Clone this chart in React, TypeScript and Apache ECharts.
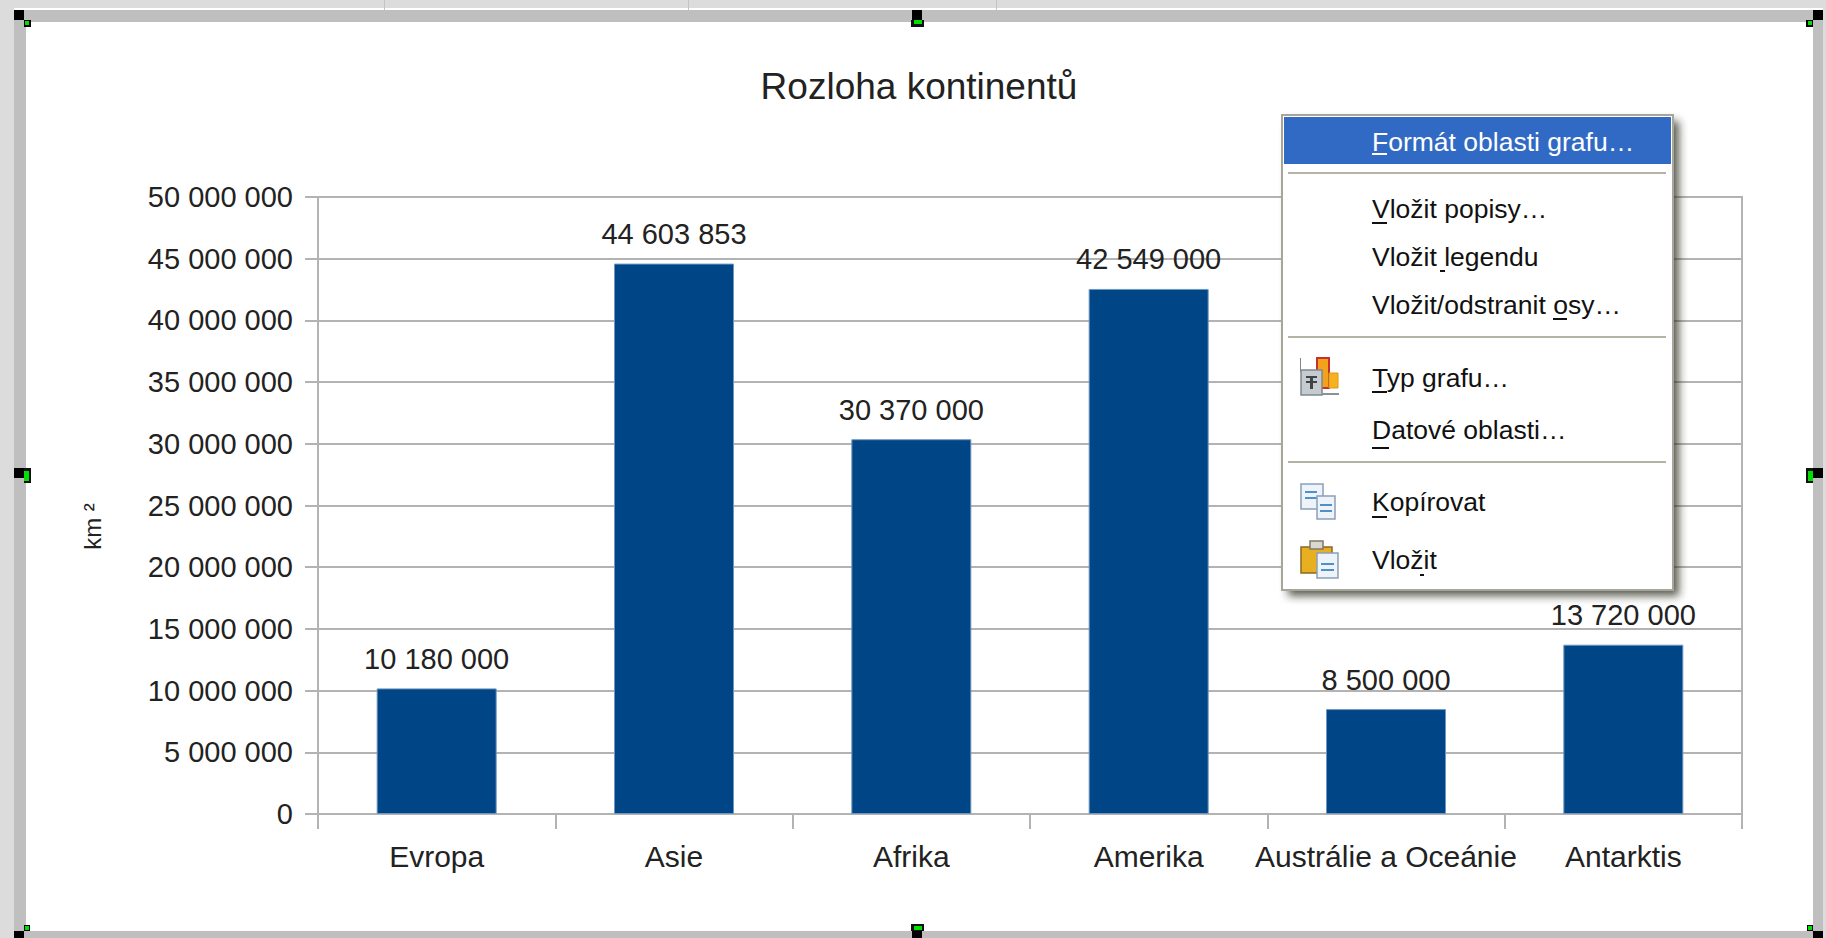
import React, { useEffect, useRef } from "react";
import * as echarts from "echarts";

const chartTitle = "Rozloha kontinentů";
const axisName = "km ²";
const categories = ["Evropa", "Asie", "Afrika", "Amerika", "Austrálie a Oceánie", "Antarktis"];
const areas = [10180000, 44603853, 30370000, 42549000, 8500000, 13720000];
const axisMax = 50000000;
const axisStep = 5000000;

const menuItems: [string, number][] = [
  ["Vložit popisy…", 209],
  ["Vložit legendu", 257],
  ["Vložit/odstranit osy…", 305],
  ["Typ grafu…", 378],
  ["Datové oblasti…", 430],
  ["Kopírovat", 502],
  ["Vložit", 560],
];
const menuUnderlines: [number, number, number][] = [
  [1372, 1387, 222],
  [1440, 1445, 270],
  [1553, 1567, 318],
  [1372, 1387, 391],
  [1372, 1389, 447],
  [1372, 1387, 516],
  [1420, 1424, 574],
];
const menuSeparators = [173, 337, 462];

const FONT = '"Liberation Sans", sans-serif';
const TEXT = "#222222";
const LINE = "#b3b3b3";
const fmt = (v: number) => String(v).replace(/\B(?=(\d{3})+(?!\d))/g, " ");

function rect(x: number, y: number, w: number, h: number, fill: string, extra: any = {}, z = 50) {
  return { type: "rect", z, shape: { x, y, width: w, height: h }, style: { fill, ...extra }, silent: true };
}

export default function App() {
  const ref = useRef<HTMLDivElement>(null);
  useEffect(() => {
    document.body.style.margin = "0";
    document.body.style.overflow = "hidden";
    const chart = echarts.init(ref.current!, undefined, { renderer: "svg" });
    const graphics: any[] = [
      // window background and frame
      rect(0, 0, 1826, 10, "#dcdcdc"),
      rect(0, 0, 14, 938, "#dcdcdc"),
      rect(1823, 0, 3, 938, "#dcdcdc"),
      rect(14, 8, 1809, 2, "#ffffff"),
      rect(384, 0, 1, 10, "#c4c4c4"),
      rect(688, 0, 1, 10, "#c4c4c4"),
      rect(996, 0, 1, 10, "#c4c4c4"),
      rect(14, 10, 1809, 12, "#bfbfbf"),
      rect(14, 10, 12, 928, "#bfbfbf"),
      rect(1813, 10, 10, 928, "#bfbfbf"),
      rect(14, 931, 1809, 7, "#bfbfbf"),
      // corner handles
      rect(14, 10, 10, 10, "#000", {}, 60),
      rect(24, 20, 7, 7, "#000", {}, 60),
      rect(25, 21, 4, 4, "#00e000", {}, 61),
      rect(1813, 10, 10, 10, "#000", {}, 60),
      rect(1806, 20, 7, 7, "#000", {}, 60),
      rect(1808, 21, 4, 4, "#00e000", {}, 61),
      rect(14, 931, 10, 7, "#000", {}, 60),
      rect(24, 925, 6, 6, "#000", {}, 60),
      rect(25, 926, 4, 4, "#00e000", {}, 61),
      rect(1813, 931, 10, 7, "#000", {}, 60),
      rect(1807, 925, 6, 6, "#000", {}, 60),
      rect(1808, 926, 4, 4, "#00e000", {}, 61),
      // side handles
      rect(912, 10, 10, 10, "#000", {}, 60),
      rect(911, 20, 13, 7, "#111", {}, 60),
      rect(914, 20, 8, 4, "#00e000", {}, 61),
      rect(912, 931, 10, 7, "#000", {}, 60),
      rect(911, 924, 13, 7, "#111", {}, 60),
      rect(914, 926, 8, 4, "#00e000", {}, 61),
      rect(14, 468, 10, 10, "#000", {}, 60),
      rect(24, 468, 7, 15, "#111", {}, 60),
      rect(24, 471, 5, 10, "#00e000", {}, 61),
      rect(1813, 468, 10, 10, "#000", {}, 60),
      rect(1806, 468, 7, 15, "#111", {}, 60),
      rect(1808, 471, 5, 10, "#00e000", {}, 61),
      // context menu
      rect(1282, 115, 391, 475, "#ffffff", { shadowBlur: 8, shadowColor: "rgba(40,40,30,0.75)", shadowOffsetX: 6, shadowOffsetY: 6 }, 70),
      rect(1282, 115, 391, 475, "#ffffff", { stroke: "#a8a698", lineWidth: 2 }, 71),
      rect(1284, 117, 387, 47, "#316ac5", {}, 72),
      {
        type: "text", z: 73, x: 1372, y: 142, silent: true,
        style: { text: "Formát oblasti grafu…", fill: "#ffffff", font: `26.5px ${FONT}`, textVerticalAlign: "middle" },
      },
      rect(1372, 153, 15, 2, "#ffffff", {}, 73),
      ...menuSeparators.map((y) => rect(1288, y - 1, 378, 2, "#b5b3a5", {}, 72)),
      ...menuItems.map(([text, y]) => ({
        type: "text", z: 73, x: 1372, y, silent: true,
        style: { text, fill: "#111", font: `26.5px ${FONT}`, textVerticalAlign: "middle" },
      })),
      ...menuUnderlines.map(([a, b, y]) => rect(a, y, b - a, 2, "#111", {}, 73)),
      // chart-type icon
      rect(1317, 358, 12, 30, "#f3a21c", { stroke: "#c8302a", lineWidth: 2 }, 73),
      rect(1329, 373, 9, 15, "#f6b21c", { stroke: "#d89a20", lineWidth: 1 }, 73),
      rect(1300, 358, 1, 14, "#7f8890", {}, 74),
      rect(1301, 370, 21, 25, "#c6cbd0", { stroke: "#7f8890", lineWidth: 1.5 }, 74),
      rect(1322, 393, 17, 2, "#8a9298", {}, 74),
      rect(1306, 376, 11, 2, "#404448", {}, 75),
      rect(1306, 381, 11, 2, "#404448", {}, 75),
      rect(1310, 376, 3, 13, "#404448", {}, 75),
      // copy icon
      rect(1301, 484, 22, 25, "#eef3fa", { stroke: "#8aa0b8", lineWidth: 1.5 }, 73),
      rect(1305, 491, 12, 2, "#4f90c8", {}, 74),
      rect(1305, 497, 12, 2, "#4f90c8", {}, 74),
      rect(1317, 496, 18, 23, "#eef3fa", { stroke: "#8aa0b8", lineWidth: 1.5 }, 75),
      rect(1320, 504, 12, 2, "#4f90c8", {}, 76),
      rect(1320, 510, 12, 2, "#4f90c8", {}, 76),
      // paste icon
      rect(1301, 547, 31, 26, "#e8b020", { stroke: "#8a6a20", lineWidth: 1.5 }, 73),
      rect(1310, 541, 13, 8, "#d8d8d0", { stroke: "#807a68", lineWidth: 1.5 }, 74),
      rect(1317, 553, 21, 25, "#eef3fa", { stroke: "#8aa0b8", lineWidth: 1.5 }, 75),
      rect(1321, 563, 13, 2, "#4f90c8", {}, 76),
      rect(1321, 569, 13, 2, "#4f90c8", {}, 76),
    ];
    chart.setOption({
      animation: false,
      backgroundColor: "#ffffff",
      title: {
        text: chartTitle,
        left: 914,
        top: 63,
        textAlign: "center",
        textStyle: { fontFamily: FONT, fontSize: 37, fontWeight: "normal", color: TEXT },
      },
      grid: { left: 318, right: 84, top: 197, bottom: 124, show: true, borderColor: LINE, borderWidth: 2, containLabel: false },
      xAxis: {
        type: "category",
        data: categories,
        axisLine: { show: true, lineStyle: { color: LINE, width: 2 } },
        axisTick: { show: true, length: 15, lineStyle: { color: LINE, width: 2 }, alignWithLabel: false },
        axisLabel: { color: TEXT, fontFamily: FONT, fontSize: 30, margin: 27, interval: 0 },
      },
      yAxis: {
        type: "value",
        min: 0,
        max: axisMax,
        interval: axisStep,
        name: axisName,
        nameLocation: "middle",
        nameGap: 214,
        nameRotate: 90,
        nameTextStyle: { color: TEXT, fontFamily: FONT, fontSize: 24, padding: [0, 42, 0, 0] },
        axisLine: { show: true, lineStyle: { color: LINE, width: 2 } },
        axisTick: { show: true, length: 13, lineStyle: { color: LINE, width: 2 } },
        axisLabel: { color: TEXT, fontFamily: FONT, fontSize: 29, margin: 25, formatter: (v: number) => fmt(v) },
        splitLine: { show: true, lineStyle: { color: LINE, width: 2 } },
      },
      series: [
        {
          type: "bar",
          data: areas,
          barWidth: 120,
          itemStyle: { color: "#004586", borderColor: "#6d97c2", borderWidth: 1 },
          label: {
            show: true,
            position: "top",
            distance: 15,
            color: TEXT,
            fontFamily: FONT,
            fontSize: 29,
            formatter: (p: any) => fmt(p.value),
          },
        },
      ],
      graphic: graphics,
    });
    return () => chart.dispose();
  }, []);
  return <div ref={ref} style={{ width: 1826, height: 938 }} />;
}
